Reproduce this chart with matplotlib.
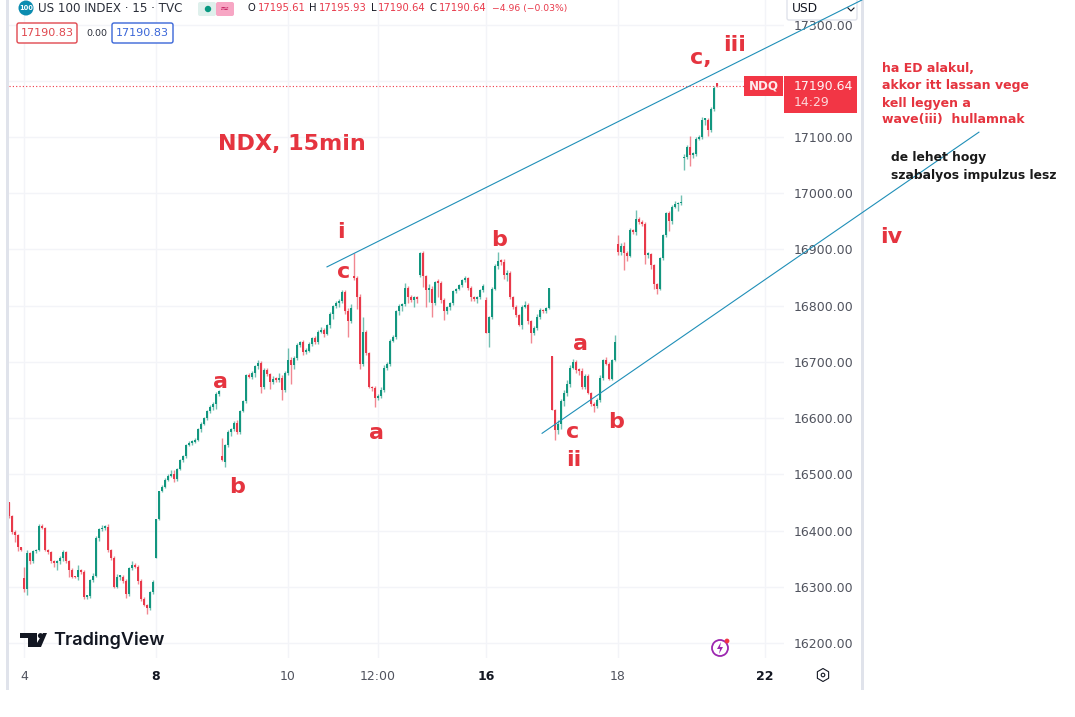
import matplotlib
matplotlib.use("Agg")
import matplotlib.pyplot as plt
from matplotlib.patches import Circle, FancyBboxPatch, Polygon, Rectangle, RegularPolygon
from matplotlib.transforms import Affine2D

# closing price of each 15 min bar
closes = [
    16425, 16398, 16392, 16370, 16366, 16296, 16360, 16345, 16363, 16366,
    16408, 16405, 16366, 16362, 16345, 16342, 16345, 16352, 16362, 16345,
    16330, 16318, 16317, 16330, 16327, 16282, 16283, 16312, 16320, 16386,
    16402, 16405, 16407, 16365, 16352, 16300, 16318, 16318, 16310, 16288,
    16333, 16338, 16336, 16310, 16278, 16268, 16262, 16290, 16308, 16420,
    16470, 16478, 16490, 16497, 16500, 16492, 16510, 16525, 16532, 16552,
    16556, 16558, 16561, 16580, 16590, 16600, 16612, 16620, 16625, 16642,
    16648, 16526, 16552, 16576, 16580, 16592, 16575, 16612, 16630, 16676,
    16674, 16680, 16692, 16698, 16655, 16686, 16678, 16664, 16670, 16668,
    16672, 16650, 16680, 16703, 16695, 16707, 16730, 16736, 16718, 16720,
    16732, 16742, 16735, 16754, 16757, 16750, 16765, 16785, 16800, 16805,
    16808, 16825, 16790, 16772, 16795, 16849, 16816, 16697, 16754, 16715,
    16656, 16653, 16636, 16640, 16650, 16690, 16697, 16738, 16745, 16790,
    16800, 16803, 16832, 16815, 16810, 16815, 16812, 16893, 16852, 16828,
    16830, 16805, 16842, 16840, 16810, 16790, 16798, 16805, 16826, 16830,
    16836, 16845, 16849, 16832, 16815, 16812, 16815, 16828, 16835, 16751,
    16780, 16830, 16870, 16880, 16878, 16855, 16858, 16816, 16798, 16783,
    16766, 16798, 16801, 16772, 16751, 16760, 16780, 16792, 16790, 16795,
    16831, 16614, 16579, 16590, 16630, 16645, 16660, 16690, 16700, 16686,
    16684, 16655, 16675, 16645, 16625, 16622, 16632, 16672, 16703, 16697,
    16670, 16703, 16736, 16896, 16907, 16893, 16889, 16934, 16931, 16955,
    16949, 16945, 16890, 16892, 16872, 16839, 16830, 16884, 16925, 16964,
    16950, 16976, 16980, 16982, 16984, 17065, 17082, 17068, 17070, 17097,
    17100, 17130, 17130, 17112, 17150, 17188, 17190.64,
]
# how far the wick goes past the body
wick_up = [
    1, 2, 3, 2, 1, 20, 6, 2, 3, 2,
    4, 3, 2, 2, 1, 2, 2, 3, 4, 2,
    2, 3, 2, 8, 2, 3, 2, 2, 4, 4,
    3, 4, 2, 4, 3, 2, 4, 3, 3, 4,
    2, 8, 4, 2, 3, 4, 2, 2, 4, 0,
    1, 3, 3, 4, 8, 8, 2, 2, 3, 2,
    3, 3, 4, 2, 3, 2, 2, 3, 4, 5,
    2, 32, 2, 2, 3, 2, 4, 2, 2, 2,
    5, 3, 2, 6, 4, 3, 3, 2, 5, 3,
    8, 4, 3, 22, 6, 4, 3, 2, 3, 4,
    3, 3, 4, 2, 5, 3, 2, 3, 2, 4,
    3, 2, 3, 5, 8, 44, 3, 4, 25, 3,
    3, 2, 4, 3, 6, 4, 2, 2, 3, 2,
    3, 2, 8, 3, 4, 2, 3, 3, 4, 3,
    8, 5, 2, 5, 3, 4, 2, 2, 2, 2,
    3, 2, 3, 2, 3, 3, 2, 2, 3, 5,
    2, 3, 4, 16, 3, 5, 6, 3, 2, 3,
    2, 3, 8, 3, 2, 3, 5, 3, 2, 3,
    1, 0, 2, 6, 4, 5, 8, 4, 5, 4,
    3, 5, 4, 3, 2, 3, 3, 4, 3, 5,
    2, 3, 12, 15, 5, 6, 4, 5, 3, 15,
    3, 3, 4, 4, 2, 2, 2, 3, 3, 3,
    4, 3, 6, 3, 13, 5, 4, 19, 3, 3,
    4, 5, 3, 3, 4, 3, 1,
]
wick_down = [
    3, 4, 12, 6, 2, 6, 10, 4, 3, 3,
    3, 3, 3, 4, 3, 6, 12, 5, 6, 3,
    12, 3, 2, 5, 4, 3, 3, 3, 3, 3,
    5, 3, 4, 3, 5, 3, 3, 6, 4, 8,
    4, 3, 3, 5, 3, 3, 11, 3, 3, 0,
    2, 2, 3, 2, 2, 6, 3, 2, 3, 3,
    2, 3, 3, 2, 4, 3, 3, 3, 6, 8,
    2, 3, 9, 3, 8, 3, 3, 4, 2, 3,
    3, 5, 6, 4, 10, 3, 3, 12, 3, 3,
    4, 18, 3, 4, 35, 8, 4, 3, 5, 4,
    3, 4, 3, 4, 3, 5, 3, 4, 8, 4,
    8, 3, 4, 27, 3, 4, 22, 10, 4, 3,
    3, 5, 16, 3, 4, 3, 5, 4, 3, 4,
    6, 10, 3, 10, 4, 12, 8, 4, 18, 30,
    22, 25, 3, 25, 5, 15, 4, 5, 3, 3,
    3, 3, 3, 4, 6, 3, 8, 3, 3, 0,
    24, 3, 3, 4, 5, 8, 12, 4, 4, 3,
    3, 8, 3, 4, 18, 3, 3, 4, 3, 3,
    1, 0, 18, 8, 10, 8, 5, 5, 3, 5,
    8, 3, 3, 3, 4, 12, 4, 3, 4, 3,
    3, 3, 2, 5, 6, 29, 10, 3, 4, 5,
    3, 4, 15, 5, 6, 10, 10, 3, 3, 3,
    18, 4, 3, 12, 3, 20, 4, 20, 6, 3,
    3, 3, 8, 10, 3, 3, 1,
]
# bars that open away from the previous close
gap_bars = [0, 5, 49, 71, 72, 115, 137, 159, 181, 203, 225, 236]
gap_opens = [16450, 16315, 16351, 16532, 16522, 16850, 16855, 16810, 16710, 16910, 17062, 17195.61]

price_ticks = [16200, 16300, 16400, 16500, 16600, 16700, 16800, 16900, 17000, 17100, 17200, 17300]
time_bars = [5, 49, 93, 123, 159, 203, 252]
time_labels = ["4", "8", "10", "12:00", "16", "18", "22"]
bold_times = ["8", "16", "22"]

# the two trend lines, bar number and price at each end
upper_line_bars = [106, 284.3]
upper_line_prices = [16869, 17343.7]
lower_line_bars = [177.7, 323.3]
lower_line_prices = [16573, 17108.6]

last_price = 17190.64

GREEN = "#12967f"
RED = "#e8394a"
BADGE = "#f23645"
GRID = "#f3f4f8"
FRAME = "#e0e3eb"
LINE = "#1f8fb8"
TEXT = "#50535e"

fig = plt.figure(figsize=(10.75, 7.17), dpi=100, facecolor="white")
ax = fig.add_axes([9 / 1075, (717 - 658) / 717, 775 / 1075, 658 / 717])

# picture pixels, origin top left
px = Affine2D().scale(1, -1).translate(0, 717)

opens = [closes[0]] + closes[:-1]
for b, o in zip(gap_bars, gap_opens):
    opens[b] = o
bars = list(range(len(closes)))
colors = [GREEN if c >= o else RED for o, c in zip(opens, closes)]
tops = [max(o, c) for o, c in zip(opens, closes)]
bottoms = [min(o, c) for o, c in zip(opens, closes)]
highs = [t + w for t, w in zip(tops, wick_up)]
lows = [b - w for b, w in zip(bottoms, wick_down)]

ax.vlines(bars, lows, highs, colors=colors, linewidth=1.0, alpha=0.6, zorder=3)
heights = [max(t - b, 3) for t, b in zip(tops, bottoms)]
ax.bar(bars, heights, bottom=bottoms, width=0.95, color=colors, linewidth=0, zorder=4)

ax.set_xlim(0, 775 / 3)
ax.set_ylim(16173.3, 17343.7)
ax.set_xticks(time_bars)
ax.set_xticklabels(time_labels)
ax.set_yticks(price_ticks)
ax.set_yticklabels([f"{p:.2f}" for p in price_ticks])
ax.yaxis.tick_right()
ax.grid(True, color=GRID, linewidth=1)
ax.set_axisbelow(True)
ax.tick_params(axis="y", length=0, pad=7, labelsize=9, labelcolor=TEXT)
ax.tick_params(axis="x", length=0, pad=9, labelsize=9, labelcolor=TEXT)
for lab in ax.get_xticklabels():
    if lab.get_text() in bold_times:
        lab.set_fontweight("bold")
        lab.set_color("#131722")
for s in ax.spines.values():
    s.set_visible(False)

# last price marker
ax.axhline(last_price, xmax=(745 - 9) / 775, color=BADGE, linewidth=0.8, linestyle=(0, (1, 2)), zorder=2)

# trend lines
ax.plot(upper_line_bars, upper_line_prices, color=LINE, linewidth=0.8, clip_on=False, zorder=8)
ax.plot(lower_line_bars, lower_line_prices, color=LINE, linewidth=0.8, clip_on=False, zorder=8)


def box(x0, y0, x1, y1, **kw):
    kw.setdefault("linewidth", 0)
    p = Rectangle((x0, y0), x1 - x0, y1 - y0, transform=px, clip_on=False, **kw)
    ax.add_patch(p)
    return p


def rbox(x0, y0, x1, y1, **kw):
    p = FancyBboxPatch((x0 + 2, y0 + 2), x1 - x0 - 4, y1 - y0 - 4, boxstyle="round,pad=2,rounding_size=2",
                       transform=px, clip_on=False, **kw)
    ax.add_patch(p)


def label(x, y, s, **kw):
    kw.setdefault("va", "center")
    kw.setdefault("ha", "left")
    kw.setdefault("zorder", 10)
    return ax.text(x, y, s, transform=px, clip_on=False, **kw)


# frame strips left and right of the chart
box(6, 0, 9, 690, facecolor=FRAME, zorder=1)
box(861, 0, 864, 690, facecolor=FRAME, zorder=1)

# badges on the price scale
box(744, 76, 783, 96, facecolor=BADGE, zorder=6)
box(784, 76, 857, 113, facecolor=BADGE, zorder=6)
label(763.5, 86, "NDQ", color="white", fontsize=8.6, ha="center", fontweight="bold", alpha=0.9)
label(794, 86, "17190.64", color="white", fontsize=9, alpha=0.95)
label(794, 103, "14:29", color="white", fontsize=9, alpha=0.8)

# currency button
rbox(787, -10, 857, 20, facecolor="white", edgecolor=FRAME, linewidth=1, zorder=6)
label(792, 9, "USD", color="#131722", fontsize=8.8)
ax.plot([848, 851, 854], [8, 11, 8], transform=px, color="#131722", linewidth=0.8, clip_on=False, zorder=10)

# header line
ax.add_patch(Circle((26, 8), 7.5, transform=px, facecolor="#0b8cb0", edgecolor="none", clip_on=False, zorder=6))
label(26, 8, "100", color="white", fontsize=4.8, ha="center", fontweight="bold")
label(38, 9, "US 100 INDEX · 15 · TVC", color="#2a2e39", fontsize=8.6)
rbox(198, 2, 216, 16, facecolor="#dff0ec", edgecolor="none", zorder=6)
rbox(216, 2, 234, 16, facecolor="#f7a6c4", edgecolor="none", zorder=6)
ax.add_patch(Circle((208, 9), 3.2, transform=px, facecolor="#089981", edgecolor="none", clip_on=False, zorder=7))
label(224.5, 8.5, "≈", color="#c2185b", fontsize=8, ha="center")
for x, s, c in [(248, "O", "#131722"), (258, "17195.61", RED), (309, "H", "#131722"), (319, "17195.93", RED),
                (371, "L", "#131722"), (378, "17190.64", RED), (430, "C", "#131722"), (439, "17190.64", RED)]:
    label(x, 8, s, color=c, fontsize=7.2)
label(492, 8, "−4.96 (−0.03%)", color=RED, fontsize=6.7)

rbox(17, 23, 77, 43, facecolor="white", edgecolor="#e0484f", linewidth=1, zorder=6)
label(47, 33, "17190.83", color="#e0484f", fontsize=8, ha="center")
label(86, 33.5, "0.00", color="#2a2e39", fontsize=6.8)
rbox(112, 23, 173, 43, facecolor="white", edgecolor="#3a66d8", linewidth=1, zorder=6)
label(142.5, 33, "17190.83", color="#3a66d8", fontsize=8, ha="center")

# watermark
ax.add_patch(Polygon([(20, 633), (37, 633), (37, 647), (28, 647), (28, 638), (20, 638)], transform=px,
                     facecolor="#131722", clip_on=False, zorder=6))
ax.add_patch(Circle((40.5, 635.7), 2.6, transform=px, facecolor="#131722", clip_on=False, zorder=6))
ax.add_patch(Polygon([(43, 633), (47, 633), (41, 647), (34.5, 647)], transform=px,
                     facecolor="#131722", clip_on=False, zorder=6))
label(53, 640, "TradingView", color="#131722", fontsize=13, fontweight=600, family="Inter")

# bolt icon and auto scale icon
ax.add_patch(Circle((720, 648), 8, transform=px, facecolor="white", edgecolor="#9c27b0", linewidth=1.3,
                    clip_on=False, zorder=6))
ax.add_patch(Polygon([(721, 642), (717, 649), (720, 649), (719, 654), (723, 647), (720, 647)], transform=px,
                     facecolor="#9c27b0", clip_on=False, zorder=7))
ax.add_patch(Circle((727, 641), 2.4, transform=px, facecolor=BADGE, edgecolor="none", clip_on=False, zorder=8))
ax.add_patch(RegularPolygon((823, 675), 6, radius=6.5, transform=px, facecolor="white", edgecolor="#131722",
                            linewidth=0.8, clip_on=False, zorder=6))
ax.add_patch(Circle((823, 675), 1.8, transform=px, facecolor="white", edgecolor="#131722", linewidth=0.8,
                    clip_on=False, zorder=7))

# hand written wave labels
WAVE = "#e5343f"
label(218, 144, "NDX, 15min", color=WAVE, fontsize=16, fontweight="bold")
for x, y, s in [(341, 232, "i"), (344, 272, "c"), (221, 382, "a"), (237, 487, "b"), (376, 433, "a"),
                (499, 240, "b"), (580, 344, "a"), (573, 432, "c"), (574, 460, "ii"), (616, 422, "b"),
                (701, 58, "c,"), (735, 45, "iii"), (891, 237, "iv")]:
    label(x, y, s, color=WAVE, fontsize=16, fontweight="bold", ha="center")
for y, s in [(68, "ha ED alakul,"), (86, "akkor itt lassan vege"), (103, "kell legyen a"), (120, "wave(iii)  hullamnak")]:
    label(882, y, s, color=WAVE, fontsize=9, fontweight="bold")
for y, s in [(158, "de lehet hogy"), (176, "szabalyos impulzus lesz")]:
    label(891, y, s, color="#1a1a1a", fontsize=8.9, fontweight="bold")

fig.savefig("out.png", dpi=100, facecolor="white")
